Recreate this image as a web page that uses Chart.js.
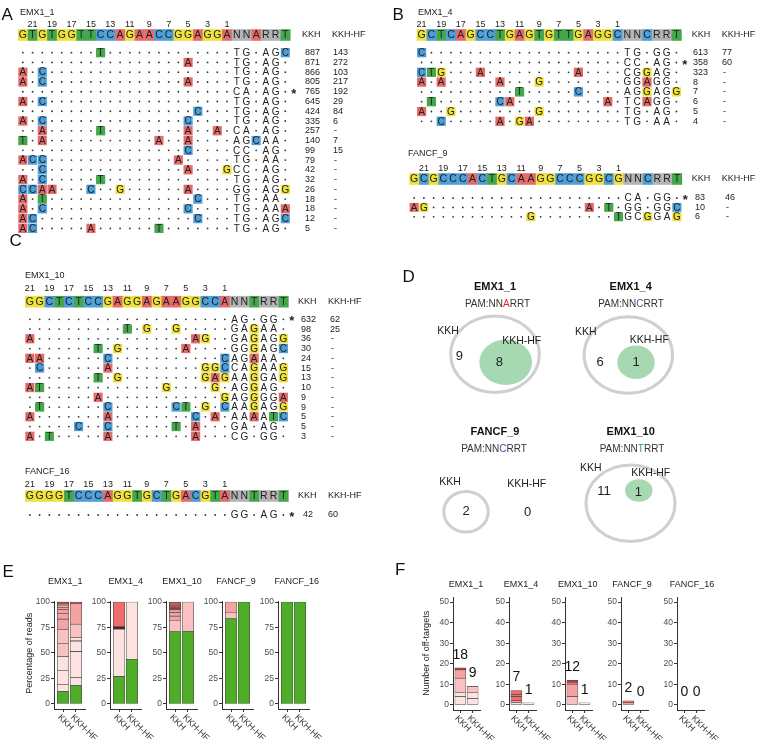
<!DOCTYPE html>
<html>
<head>
<meta charset="utf-8">
<script src="https://cdn.jsdelivr.net/npm/chart.js@4.4.1/dist/chart.umd.min.js"></script>
<style>
  body { margin: 0; background: #fff; }
  #wrap { position: relative; width: 757px; height: 745px; overflow: hidden; }
  #wrap canvas { position: absolute; }
</style>
</head>
<body>
<div id="wrap"><canvas id="base" width="757" height="745" style="left:0;top:0"></canvas></div>
<script>
// ---------- data ----------
const groups = ['KKH', 'KKH-HF'];
const sites = ['EMX1_1', 'EMX1_4', 'EMX1_10', 'FANCF_9', 'FANCF_16'];

// alignments: mismatch = "index+base" in the protospacer, PAM string uses '.' for a match
const a_ref = 'GTGTGGTTCCAGAACCGGAGGANNARRT';
const a_mm = ['8T', '17A', '0A 2C', '0A 2C 17A', '', '0A 2C', '18C', '0A 2C 17C',
  '2A 8T 17A 20A', '0T 2A 14A 17A', '17C', '0A 1C 2C 16A', '2C 17A 21G', '0A 2C 8T',
  '0C 1C 2A 3A 7C 10G 17A', '0A 2T 18C', '0A 2C 17C', '0A 1C 18C', '0A 1C 7A 14T'];
const a_pam = ['TG.AGC', 'TG.AG.', 'TG.AG.', 'TG.AG.', 'CA.AG.', 'TG.AG.', 'TG.AG.', 'TG.AG.',
  'CA.AG.', 'AGCAA.', 'CC.AG.', 'TG.AA.', 'CC.AG.', 'TG.AG.', 'GG.AGG', 'TG.AA.', 'TG.AAA', 'TG.AGC', 'TG.AG.'];
const a_kkh = [887, 871, 866, 805, 765, 645, 424, 335, 257, 140, 99, 79, 42, 32, 26, 18, 18, 12, 5];
const a_hf = [143, 272, 103, 217, 192, 29, 84, 6, null, 7, 15, null, null, null, null, null, null, null, null];

const b_ref = 'GCTCAGCCTGAGTGTTGAGGCNNCRRT';
const b_mm = ['0C', '', '0C 1T 2G 6A 16A', '0A 2A 8A 12G', '10T 16C', '1T 8C 9A 19A', '0A 3G 12G', '2C 8A 10G 11A'];
const b_pam = ['TG.GG.', 'CC.AG.', 'CGGAG.', 'GGAGG.', 'AGGAGG', 'TCAGG.', 'TG.AG.', 'TG.AA.'];
const b_kkh = [613, 358, 323, 8, 7, 6, 5, 4];
const b_hf = [77, 60, null, null, null, null, null, null];

const f9_ref = 'GCGCCCACTGCAAGGCCCGGCGNNCRRT';
const f9_mm = ['', '0A 1G 18A 20T', '12G 21T'];
const f9_pam = ['CA.GG.', 'GG.GGC', 'GCGGAG'];
const f9_kkh = [83, 10, 6];
const f9_hf = [46, null, null];

const c_ref = 'GGCTCTCCGAGGAGAAGGCCANNTRRT';
const c_mm = ['', '10T 12G 15G', '0A 17A 18G', '7T 9G 16A', '0A 1A 8C 20C', '1C 8A 18G 19G 20C',
  '7T 9G 18G 19A 20G', '0A 1T 14G 19G', '7A 20G', '1T 8C 15C 16T 18G 20C', '0A 8A 17C 19A',
  '5C 8C 15T 17A', '0A 2T 8A 17A'];
const c_pam = ['AG.GG.', 'GAGAA.', 'GAGAGG', 'GGGAGC', 'AGAAA.', 'CAGAAG', 'AAGGAG', 'AGGAG.',
  'AGGGGA', 'AAGAGG', 'AAAATC', 'GA.AG.', 'CG.GG.'];
const c_kkh = [632, 98, 36, 30, 24, 15, 13, 10, 9, 9, 5, 5, 3];
const c_hf = [62, 25, null, null, null, null, null, null, null, null, null, null, null];

const f16_ref = 'GGGGTCCCAGGTGCTGACGTANNTRRT';
const f16_mm = [''];
const f16_pam = ['GG.AG.'];
const f16_kkh = [42];
const f16_hf = [60];

// venn
const d_sites = ['EMX1_1', 'EMX1_4', 'FANCF_9', 'EMX1_10'];
const d_pam = ['A', 'C', 'C', 'T'];
const d_kkh_only = [9, 6, 2, 11];
const d_shared = [8, 1, 0, 1];

// E: reads per site, bottom to top, first = on-target
const e_kkh = [
  [765, 424, 887, 871, 805, 866, 645, 335, 257, 140, 99, 79, 42, 32, 26, 18, 18, 12, 5],
  [358, 613, 8, 7, 6, 5, 4, 323],
  [632, 98, 36, 30, 24, 15, 13, 10, 9, 9, 5, 5, 3],
  [83, 6, 10],
  [42]
];
const e_hf = [
  [192, 84, 272, 103, 7, 6, 29, 143, 217, 15],
  [60, 77],
  [62, 25],
  [46],
  [60]
];
// shade level of each off-target segment
const e_kkh_shade = [
  [0, 0, 0, 1, 1, 2, 2, 2, 2, 2, 2, 4, 4, 4, 4, 4, 4, 4],
  [0, 5, 5, 5, 5, 5, 3],
  [1, 2, 2, 2, 4, 4, 4, 4, 4, 4, 4, 4],
  [1, 2],
  []
];
const e_hf_shade = [[0, 0, 0, 0, 0, 0, 1, 2, 4], [0], [1], [], []];

// F: number of off-targets, stacked groups bottom to top
const f_kkh = [[4, 2, 7, 4, 1], [1, 1, 2, 1, 2], [4, 6, 1, 1], [1, 1], []];
const f_hf = [[3, 3, 3], [1], [1], [], []];
const f_kkh_shade = [[0, 0, 1, 2, 4], [0, 2, 3, 3, 3], [1, 2, 3, 4], [2, 3], []];
const f_hf_shade = [[0, 0, 1], [0], [0], [], []];

// ---------- styles ----------
const FONT = '"Liberation Sans", Arial, sans-serif';
const BASE_COL = { A: '#e66a6a', C: '#4e9fd8', G: '#eee13c', T: '#45a74b', N: '#b3b3b3', R: '#b3b3b3' };
const PAM_COL = { A: '#e3262b', C: '#3d4fa3', T: '#34a04a' };
const GREEN = '#50ad2a';
const SHADES = ['#fde2e2', '#f9c1c1', '#f5a2a2', '#ef6d6d', '#bd3a3a', '#3e1313'];

const aligns = [
  { name: 'EMX1_1', ref: a_ref, mm: a_mm, pam: a_pam, kkh: a_kkh, hf: a_hf, on: 4,
    L: { x0: 18, cw: 9.72, lx: 20, ly: 13, numY: 25, seqY: 35, rowY: 52.7, rh: 9.76, kx: 305, hx: 333, khx: 302, hhx: 332 } },
  { name: 'EMX1_4', ref: b_ref, mm: b_mm, pam: b_pam, kkh: b_kkh, hf: b_hf, on: 1,
    L: { x0: 416.7, cw: 9.8, lx: 418, ly: 13, numY: 25, seqY: 35, rowY: 52.7, rh: 9.8, kx: 693, hx: 722, khx: 691.7, hhx: 721.7 } },
  { name: 'FANCF_9', ref: f9_ref, mm: f9_mm, pam: f9_pam, kkh: f9_kkh, hf: f9_hf, on: 0,
    L: { x0: 409.3, cw: 9.73, lx: 408, ly: 153.3, numY: 168.3, seqY: 179, rowY: 198, rh: 9.4, kx: 695, hx: 725, khx: 691.7, hhx: 721.7 } },
  { name: 'EMX1_10', ref: c_ref, mm: c_mm, pam: c_pam, kkh: c_kkh, hf: c_hf, on: 0,
    L: { x0: 25, cw: 9.75, lx: 25, ly: 275.7, numY: 289, seqY: 301.7, rowY: 319.3, rh: 9.75, kx: 301, hx: 330, khx: 298, hhx: 328 } },
  { name: 'FANCF_16', ref: f16_ref, mm: f16_mm, pam: f16_pam, kkh: f16_kkh, hf: f16_hf, on: 0,
    L: { x0: 25, cw: 9.75, lx: 25, ly: 472, numY: 485, seqY: 496, rowY: 515, rh: 9.75, kx: 303, hx: 328, khx: 298, hhx: 328 } }
];

const vennL = [
  { tx: 495, ty: 286.7, px: 497.5, py: 304, ox: 495, oy: 354.3, orx: 44.3, ory: 38.3, ix: 505.7, iy: 362.3, irx: 26.3, iry: 22.8,
    kx: 448, ky: 331, hx: 521.7, hy: 341, n1x: 459.3, n1y: 356.7, n2x: 499.3, n2y: 362.3 },
  { tx: 630.7, ty: 286.7, px: 631, py: 304, ox: 628.3, oy: 355, orx: 44.2, ory: 38.3, ix: 636, iy: 362.3, irx: 18.8, iry: 16.7,
    kx: 585.7, ky: 332, hx: 649.3, hy: 340, n1x: 600, n1y: 362.3, n2x: 636, n2y: 362.3 },
  { tx: 495, ty: 432.3, px: 494, py: 449, ox: 466, oy: 511.7, orx: 22.2, ory: 20.3,
    kx: 450, ky: 481.7, hx: 526.7, hy: 484, n1x: 466, n1y: 511.7, n2x: 527.7, n2y: 512.3 },
  { tx: 630.7, ty: 432.3, px: 632, py: 449, ox: 630.5, oy: 503.3, orx: 44.5, ory: 38.3, ix: 638.8, iy: 490.5, irx: 13.8, iry: 11.3,
    kx: 590.7, ky: 468.3, hx: 650.7, hy: 473.3, n1x: 604, n1y: 491, n2x: 638.3, n2y: 492 }
];

// ---------- drawing helpers for the overlay ----------
function buildRow(n, mm, pam) {
  const chars = new Array(n).fill('.');
  mm.split(' ').filter(Boolean).forEach(t => { chars[parseInt(t, 10)] = t.slice(-1); });
  return chars.concat(pam.split(''));
}

function drawAlign(ctx, X, Y, al) {
  const L = al.L, cw = L.cw, proto = al.ref.length - 6;
  const cx = i => L.x0 + cw * (i + 0.5);
  ctx.textBaseline = 'middle';
  ctx.fillStyle = '#222';
  ctx.font = '9px ' + FONT;
  ctx.textAlign = 'left';
  ctx.fillText(al.name, X(L.lx), Y(L.ly));
  ctx.textAlign = 'center';
  for (let p = 21; p >= 1; p -= 2) ctx.fillText(String(p), X(cx(proto - p)), Y(L.numY));

  // reference row
  for (let i = 0; i < al.ref.length; i++) {
    const x0 = X(L.x0 + cw * i), x1 = X(L.x0 + cw * (i + 1));
    ctx.fillStyle = BASE_COL[al.ref[i]];
    ctx.fillRect(x0, Y(L.seqY - 5.8), x1 - x0 + 0.4, Y(L.seqY + 5.8) - Y(L.seqY - 5.8));
  }
  ctx.font = '10.5px ' + FONT;
  ctx.fillStyle = '#222';
  for (let i = 0; i < al.ref.length; i++) ctx.fillText(al.ref[i], X(cx(i)), Y(L.seqY + 0.6));
  ctx.font = '9px ' + FONT;
  ctx.textAlign = 'left';
  ctx.fillText('KKH', X(L.khx), Y(L.seqY));
  ctx.fillText('KKH-HF', X(L.hhx), Y(L.seqY));

  // off-target rows
  al.mm.forEach((m, r) => {
    const y = L.rowY + r * L.rh;
    const row = buildRow(proto, m, al.pam[r]);
    row.forEach((c, i) => {
      if (c === '.') {
        ctx.fillStyle = '#333';
        ctx.beginPath();
        ctx.arc(X(cx(i)), Y(y), 0.9, 0, Math.PI * 2);
        ctx.fill();
        return;
      }
      const rc = al.ref[i];
      const boxed = i < proto || (rc === 'R' ? (c !== 'A' && c !== 'G') : rc !== 'N');
      if (boxed) {
        ctx.fillStyle = BASE_COL[c];
        ctx.fillRect(X(cx(i) - cw / 2 + 0.3), Y(y - L.rh / 2 + 0.25), cw - 0.6, L.rh - 0.5);
      }
      ctx.fillStyle = '#222';
      ctx.font = '10px ' + FONT;
      ctx.textAlign = 'center';
      ctx.fillText(c, X(cx(i)), Y(y + 0.5));
    });
    ctx.fillStyle = '#222';
    ctx.font = '9px ' + FONT;
    ctx.textAlign = 'left';
    ctx.fillText(String(al.kkh[r]), X(L.kx), Y(y));
    ctx.fillText(al.hf[r] == null ? '-' : String(al.hf[r]), X(al.hf[r] == null ? L.hx + 1 : L.hx), Y(y));
    if (r === al.on) {
      ctx.font = 'bold 13px ' + FONT;
      ctx.textAlign = 'center';
      ctx.fillText('*', X(cx(row.length - 1) + 8.5), Y(y + 2.5));
    }
  });
}

function drawVenn(ctx, X, Y, k) {
  const v = vennL[k];
  ctx.textBaseline = 'middle';
  ctx.textAlign = 'center';
  ctx.fillStyle = '#111';
  ctx.font = 'bold 11px ' + FONT;
  ctx.fillText(d_sites[k], X(v.tx), Y(v.ty));
  ctx.font = '10px ' + FONT;
  const parts = ['PAM:NN', d_pam[k], 'RRT'];
  const ws = parts.map(s => ctx.measureText(s).width);
  let x = X(v.px) - (ws[0] + ws[1] + ws[2]) / 2;
  ctx.textAlign = 'left';
  parts.forEach((s, j) => {
    ctx.fillStyle = j === 1 ? PAM_COL[d_pam[k]] : '#333';
    ctx.fillText(s, x, Y(v.py));
    x += ws[j];
  });
  ctx.beginPath();
  ctx.ellipse(X(v.ox), Y(v.oy), X(v.ox + v.orx) - X(v.ox), Y(v.oy + v.ory) - Y(v.oy), 0, 0, Math.PI * 2);
  ctx.strokeStyle = '#cfcfcf';
  ctx.lineWidth = 3;
  ctx.stroke();
  if (d_shared[k] > 0) {
    ctx.beginPath();
    ctx.ellipse(X(v.ix), Y(v.iy), X(v.ix + v.irx) - X(v.ix), Y(v.iy + v.iry) - Y(v.iy), 0, 0, Math.PI * 2);
    ctx.fillStyle = '#a6d8b2';
    ctx.fill();
  }
  ctx.fillStyle = '#222';
  ctx.textAlign = 'center';
  ctx.font = '10.5px ' + FONT;
  ctx.fillText('KKH', X(v.kx), Y(v.ky));
  ctx.fillText('KKH-HF', X(v.hx), Y(v.hy));
  ctx.font = '13px ' + FONT;
  ctx.fillText(String(d_kkh_only[k]), X(v.n1x), Y(v.n1y));
  ctx.fillText(String(d_shared[k]), X(v.n2x), Y(v.n2y));
}

const eAxisX = [54, 110, 166, 222, 278];
const fAxisX = [453, 509, 565, 621, 677];
const eTitleX = [65.3, 125.8, 182, 236, 296.7];
const fTitleX = [466, 521, 577.7, 632, 692];

const overlay = {
  id: 'overlay',
  afterDraw(chart) {
    const ctx = chart.ctx;
    const X = v => chart.scales.x.getPixelForValue(v);
    const Y = v => chart.scales.y.getPixelForValue(v);
    ctx.save();
    // panel letters
    ctx.fillStyle = '#111';
    ctx.font = '17px ' + FONT;
    ctx.textAlign = 'left';
    ctx.textBaseline = 'alphabetic';
    [['A', 1.5, 19.5], ['B', 392.5, 20], ['C', 9.5, 245.7], ['D', 402.5, 281.7], ['E', 2.5, 576.7], ['F', 395, 575]]
      .forEach(([t, x, y]) => ctx.fillText(t, X(x), Y(y)));
    aligns.forEach(al => drawAlign(ctx, X, Y, al));
    for (let k = 0; k < d_sites.length; k++) drawVenn(ctx, X, Y, k);
    // facet strip titles
    ctx.fillStyle = '#222';
    ctx.font = '9px ' + FONT;
    ctx.textAlign = 'center';
    ctx.textBaseline = 'middle';
    sites.forEach((s, i) => {
      ctx.fillText(s, X(eTitleX[i]), Y(581.7));
      ctx.fillText(s, X(fTitleX[i]), Y(584.3));
    });
    // axis titles
    [['Percentage of reads', 29.3], ['Number of off-targets', 426.7]].forEach(([t, x]) => {
      ctx.save();
      ctx.translate(X(x), Y(653.3));
      ctx.rotate(-Math.PI / 2);
      ctx.fillText(t, 0, 0);
      ctx.restore();
    });
    ctx.restore();
  }
};

new Chart(document.getElementById('base'), {
  type: 'scatter',
  data: { datasets: [] },
  options: {
    responsive: false, animation: false, devicePixelRatio: 1, events: [],
    layout: { padding: 0 },
    plugins: { legend: { display: false }, tooltip: { enabled: false } },
    scales: {
      x: { type: 'linear', min: 0, max: 757, display: false },
      y: { type: 'linear', min: 0, max: 745, reverse: true, display: false }
    }
  },
  plugins: [overlay]
});

// ---------- facet bar charts (E, F) ----------
const wrap = document.getElementById('wrap');

const xLabels = {
  id: 'xLabels',
  afterDraw(chart) {
    const ctx = chart.ctx, xs = chart.scales.x;
    ctx.save();
    ctx.font = '9px ' + FONT;
    ctx.fillStyle = '#333';
    ctx.textAlign = 'left';
    ctx.textBaseline = 'middle';
    groups.forEach((t, i) => {
      ctx.save();
      ctx.translate(xs.getPixelForValue(i + 1) - 4, xs.top + 7);
      ctx.rotate(Math.PI / 4);
      ctx.fillText(t, 0, 0);
      ctx.restore();
    });
    ctx.restore();
  }
};

function totals(tot) {
  return {
    id: 'totals',
    afterDatasetsDraw(chart) {
      const ctx = chart.ctx, xs = chart.scales.x, ys = chart.scales.y;
      ctx.save();
      ctx.font = '14px ' + FONT;
      ctx.fillStyle = '#111';
      ctx.textAlign = 'center';
      ctx.textBaseline = 'middle';
      tot.forEach((t, i) => ctx.fillText(String(t), xs.getPixelForValue(i + 1), ys.getPixelForValue(t + 6.3)));
      ctx.restore();
    }
  };
}

function stackSets(kv, hv, kc, hc, thick) {
  const n = Math.max(kv.length, hv.length);
  const sets = [];
  for (let j = 0; j < n; j++) {
    sets.push({
      data: [{ x: 1, y: kv[j] ? kv[j] : null }, { x: 2, y: hv[j] ? hv[j] : null }],
      backgroundColor: [kc[j] || 'rgba(0,0,0,0)', hc[j] || 'rgba(0,0,0,0)'],
      borderColor: '#474747',
      borderWidth: 0.6,
      borderSkipped: false,
      grouped: false,
      stack: 'reads',
      barThickness: thick
    });
  }
  return sets;
}

function facet(left, top, plotW, areaH, yMin, yMax, yTicks, xMin, xMax, sets, extra) {
  const padT = 8, padR = 30, padB = 36, yW = 26;
  const cv = document.createElement('canvas');
  cv.width = yW + plotW + padR;
  cv.height = padT + areaH + 4 + padB;
  cv.style.left = (left - yW) + 'px';
  cv.style.top = (top - padT) + 'px';
  wrap.appendChild(cv);
  const plugins = [xLabels];
  if (extra) plugins.push(extra);
  return new Chart(cv, {
    type: 'bar',
    data: { datasets: sets },
    options: {
      responsive: false, animation: false, devicePixelRatio: 1, events: [],
      layout: { padding: { top: padT, right: padR, bottom: padB, left: 0 } },
      plugins: { legend: { display: false }, tooltip: { enabled: false } },
      scales: {
        x: {
          type: 'linear', stacked: true, min: xMin, max: xMax, bounds: 'data', offset: false,
          afterBuildTicks: s => { s.ticks = [{ value: 1 }, { value: 2 }]; },
          afterFit: s => { s.height = 4; },
          ticks: { display: false },
          grid: { display: true, offset: false, drawOnChartArea: false, drawTicks: true, tickLength: 3, color: '#333' },
          border: { display: true, color: '#333', width: 1 }
        },
        y: {
          type: 'linear', stacked: true, min: yMin, max: yMax, bounds: 'data',
          afterBuildTicks: s => { s.ticks = yTicks.map(v => ({ value: v })); },
          afterFit: s => { s.width = yW; },
          ticks: { font: { family: FONT, size: 8.5 }, color: '#4d4d4d', padding: 1 },
          grid: { display: true, drawOnChartArea: false, drawTicks: true, tickLength: 3, color: '#333' },
          border: { display: true, color: '#333', width: 1 }
        }
      }
    },
    plugins: plugins
  });
}

const pct = arr => { const s = arr.reduce((a, b) => a + b, 0); return arr.map(v => v / s * 100); };
const eCols = (sh) => [GREEN].concat(sh.map(i => SHADES[i]));

sites.forEach((s, i) => {
  facet(eAxisX[i], 601, 31, 108, -5, 101, [0, 25, 50, 75, 100], 0.3, 2.7,
    stackSets(pct(e_kkh[i]), pct(e_hf[i]), eCols(e_kkh_shade[i]), eCols(e_hf_shade[i]), 11.5));
  const tot = [f_kkh[i].reduce((a, b) => a + b, 0), f_hf[i].reduce((a, b) => a + b, 0)];
  facet(fAxisX[i], 597, 27, 113, -2.5, 52.5, [0, 10, 20, 30, 40, 50], 0.4, 2.6,
    stackSets(f_kkh[i], f_hf[i], f_kkh_shade[i].map(k => SHADES[k]), f_hf_shade[i].map(k => SHADES[k]), 11),
    totals(tot));
});
</script>
</body>
</html>
